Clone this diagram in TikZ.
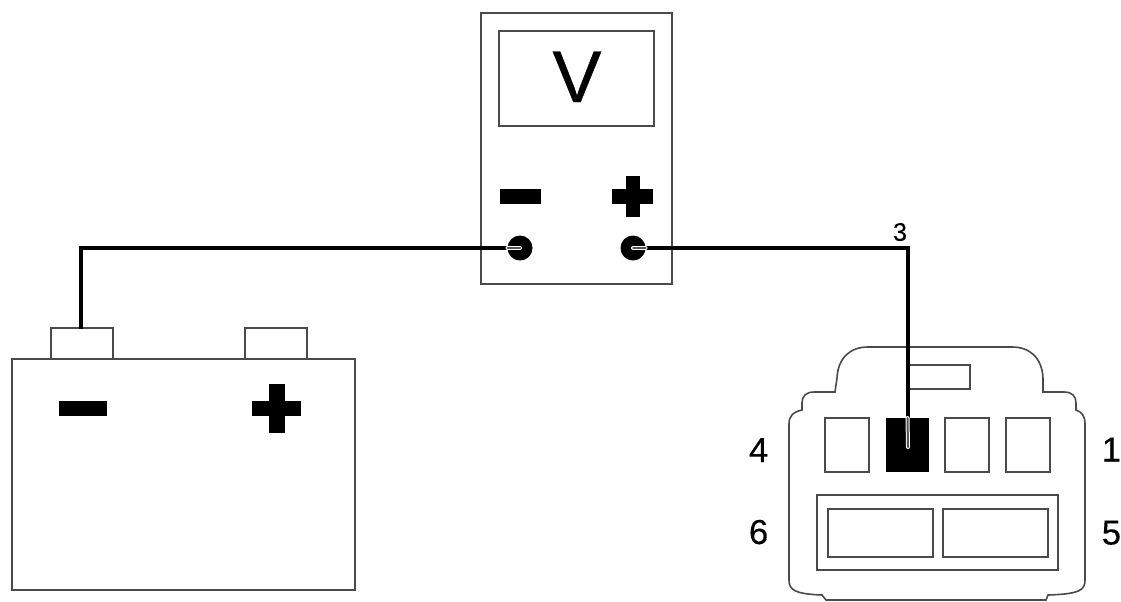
\documentclass[tikz,border=0pt]{standalone}
\usepackage{fontspec}
\setmainfont{Liberation Sans}
\newfontfamily\heavyfont[FakeBold=0.5]{Liberation Sans}
\newfontfamily\semiheavyfont[FakeBold=0.2]{Liberation Sans}
\tikzset{
  x=0.75pt,y=-0.75pt,
  outline/.style={draw=linegrey,line width=1.2pt,line join=miter},
  pxbox/.style n args={2}{outline,rectangle,inner sep=0pt,outer sep=0pt,minimum width=#1*0.75pt,minimum height=#2*0.75pt},
  blackbar/.style n args={2}{fill=black,draw=none,rectangle,inner sep=0pt,outer sep=0pt,minimum width=#1*0.75pt,minimum height=#2*0.75pt},
  terminal/.style={circle,fill=black,draw=none,inner sep=0pt,outer sep=0pt,minimum size=18.75pt},
  wire/.style={draw=black,line width=2.4pt,line join=miter},
  halo/.style={draw=white,line width=3pt,line cap=round},
  core/.style={draw=wiregrey,line width=1.5pt,line cap=round},
  pinlabel/.style={font=\semiheavyfont\fontsize{26pt}{26pt}\selectfont,inner sep=0pt,text=black},
}
\definecolor{linegrey}{HTML}{4A4A4A}
\definecolor{wiregrey}{HTML}{555555}
\begin{document}
\begin{tikzpicture}
\useasboundingbox (0,0) rectangle (1121,601);
% meter
\node[pxbox={191}{271}] (meter) at (576.5,148.5) {};
\node[pxbox={155}{95}] (display) at (576.5,78.5) {};
\node[font=\heavyfont\fontsize{55pt}{55pt}\selectfont,inner sep=0pt,text=black,anchor=base] (vlabel) at (577,102) {V};
\node[blackbar={41}{15}] (mminus) at (520.5,196.5) {};
\node[blackbar={41}{15}] (mplush) at (632.5,196.5) {};
\node[blackbar={14}{41}] (mplusv) at (632.5,196.5) {};
\node[terminal] (mneg) at (520,248) {};
\node[terminal] (mpos) at (633,248) {};
% battery
\node[pxbox={343}{231}] (battery) at (183.5,474.5) {};
\node[pxbox={62}{31}] (bneg) at (82,343.5) {};
\node[pxbox={62}{31}] (bpos) at (276,343.5) {};
\node[blackbar={48}{15}] (bminus) at (83,408.5) {};
\node[blackbar={49}{15}] (bplush) at (276.5,408.5) {};
\node[blackbar={16}{49}] (bplusv) at (276.5,408.5) {};
% connector
\draw[outline,rounded corners=0pt]
  (835,392) -- (837,378) .. controls (838,358) and (850,347) .. (868,347)
  -- (1012,347) .. controls (1030,347) and (1042,358) .. (1043,378)
  -- (1043,392) -- (1064,392) .. controls (1072,392) and (1076,396) .. (1076,403)
  -- (1076,410) .. controls (1082,412) and (1085,416) .. (1085,424)
  -- (1085,580) .. controls (1085,590) and (1080,594) .. (1048,595)
  -- (1046,600) -- (826,600) -- (822,595)
  .. controls (795,594) and (789,590) .. (789,580)
  -- (789,424) .. controls (789,416) and (793,412) .. (802,410)
  -- (802,403) .. controls (802,396) and (806,392) .. (814,392) -- cycle;
\node[pxbox={44}{54}] (pin4) at (847,445) {};
\node[rectangle,fill=black,draw=none,inner sep=0pt,outer sep=0pt,minimum width=32.25pt,minimum height=40.5pt] (pin3) at (907.5,445) {};
\node[pxbox={44}{54}] (pin2) at (967,445) {};
\node[pxbox={44}{54}] (pin1) at (1028,445) {};
\node[pxbox={241}{75}] (lower) at (937.5,532.5) {};
\node[pxbox={105}{48}] (pin6) at (880.5,533) {};
\node[pxbox={105}{48}] (pin5) at (995.5,533) {};
\draw[outline] (908,365) -- (970,365) -- (970,389) -- (908,389);
% labels
\node[pinlabel,anchor=base east] (l4) at (768.5,462) {4};
\node[pinlabel,anchor=base east] (l6) at (768.5,544) {6};
\node[pinlabel,anchor=base west] (l1) at (1101.5,461.5) {1};
\node[pinlabel,anchor=base west] (l5) at (1101.5,544.5) {5};
\node[font=\semiheavyfont\fontsize{19pt}{19pt}\selectfont,inner sep=0pt,text=black] (l3) at (900,232) {3};
% wires
\coordinate (bendl) at (81,248);
\coordinate (bendr) at (908,248);
\coordinate (negend) at (81,329);
\coordinate (posend) at (908,447);
\draw[wire] (mneg.center) -- (bendl) -- (negend);
\draw[wire] (mpos.center) -- (bendr) -- (posend);
\draw[halo] (mneg.center) -- (mneg.west);
\draw[core] (mneg.center) -- (mneg.west);
\draw[halo] (mpos.center) -- (mpos.east);
\draw[core] (mpos.center) -- (mpos.east);
\draw[halo] (posend) -- (pin3.north);
\draw[core] (posend) -- (pin3.north);
\end{tikzpicture}
\end{document}
